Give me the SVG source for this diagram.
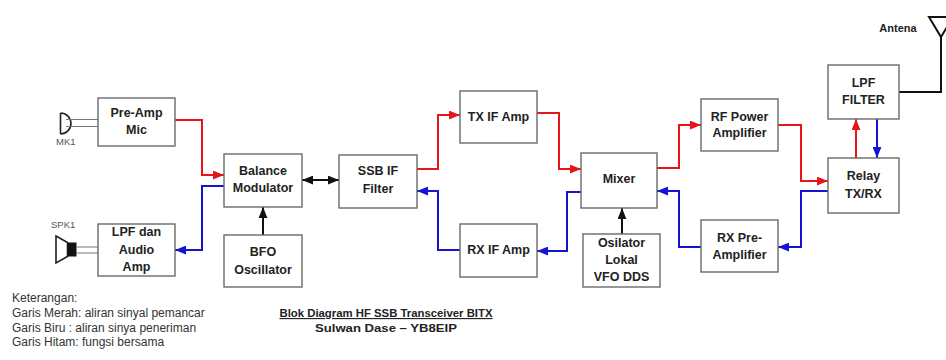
<svg xmlns="http://www.w3.org/2000/svg" width="946" height="360" viewBox="0 0 946 360">
<style>
  .box{fill:#fff;stroke:#6a6a6a;stroke-width:1.4}
  .lbl{font-family:"Liberation Sans",Arial,sans-serif;font-weight:bold;font-size:12.5px;fill:#222;text-anchor:middle}
  .red{fill:none;stroke:#e8141c;stroke-width:2}
  .blue{fill:none;stroke:#1414d2;stroke-width:2}
  .blk{fill:none;stroke:#111;stroke-width:2}
  .sym{fill:none;stroke:#222;stroke-width:1.6}
  .wire{fill:none;stroke:#777;stroke-width:1.2}
  .small{font-family:"Liberation Sans",Arial,sans-serif;font-size:9.5px;fill:#555}
  .legend{font-family:"Liberation Sans",Arial,sans-serif;font-size:12px;fill:#333}
  .title{font-family:"Liberation Sans",Arial,sans-serif;font-size:11.5px;font-weight:bold;fill:#222;text-anchor:middle}
</style>
<defs>
  <marker id="ar" viewBox="0 0 10 8" refX="10" refY="4" markerWidth="11" markerHeight="9" markerUnits="userSpaceOnUse" orient="auto-start-reverse"><path d="M0,0 L10,4 L0,8 Z" fill="#e8141c"/></marker>
  <marker id="ab" viewBox="0 0 10 8" refX="10" refY="4" markerWidth="11" markerHeight="9" markerUnits="userSpaceOnUse" orient="auto-start-reverse"><path d="M0,0 L10,4 L0,8 Z" fill="#1414d2"/></marker>
  <marker id="ak" viewBox="0 0 10 8" refX="10" refY="4" markerWidth="11" markerHeight="9" markerUnits="userSpaceOnUse" orient="auto-start-reverse"><path d="M0,0 L10,4 L0,8 Z" fill="#111"/></marker>
</defs>

<g id="connectors">
  <path class="red" d="M175,120 H202 V175 H224" marker-end="url(#ar)" stroke="#f04848" stroke-width="1.6"/>
  <path class="red" d="M417,169 H438 V115 H460" marker-end="url(#ar)"/>
  <path class="red" d="M537,113 H559 V169 H581" marker-end="url(#ar)"/>
  <path class="red" d="M657,168 H679 V125 H701" marker-end="url(#ar)"/>
  <path class="red" d="M778,125 H801 V181 H828" marker-end="url(#ar)"/>
  <path class="red" d="M856,158 V119" marker-end="url(#ar)"/>
  <path class="blue" d="M224,186 H202 V250 H175" marker-end="url(#ab)" stroke="#4a4ae0" stroke-width="1.6"/>
  <path class="blue" d="M460,250 H438 V191 H417" marker-end="url(#ab)"/>
  <path class="blue" d="M581,192 H567 V251 H537" marker-end="url(#ab)"/>
  <path class="blue" d="M701,247 H679 V191 H657" marker-end="url(#ab)"/>
  <path class="blue" d="M828,191 H801 V247 H778" marker-end="url(#ab)"/>
  <path class="blue" d="M877,119 V158" marker-end="url(#ab)"/>
  <path class="blk" d="M263,235 V207" marker-end="url(#ak)"/>
  <path class="blk" d="M302,180 H339" marker-start="url(#ak)" marker-end="url(#ak)"/>
  <path class="blk" d="M622,234 V208" marker-end="url(#ak)"/>
  <path class="blk" d="M899,92 H941 V37"/>
</g>

<g id="mic">
  <path class="sym" d="M60.5,113 V134 M60.5,113 A10.5,10.5 0 0 1 60.5,134"/>
  <path class="wire" d="M66,119.5 H98 M66,126.5 H98"/>
  <text class="small" x="56" y="145">MK1</text>
</g>

<g id="speaker">
  <path class="sym" d="M56,236 L67.5,242.5 V256.5 L56,263 Z"/>
  <rect x="67.5" y="242.5" width="9" height="14" fill="#111"/>
  <path class="wire" d="M76.5,247 H98 M76.5,253 H98"/>
  <text class="small" x="51" y="228">SPK1</text>
</g>

<g id="antenna">
  <path class="blk" d="M929,17 L941,37 L953,17 Z" stroke-width="1.8"/>
  <text x="898" y="32" font-family="Liberation Sans,Arial,sans-serif" font-size="11" font-weight="bold" fill="#222" text-anchor="middle">Antena</text>
</g>

<g id="preamp-mic"><rect class="box" x="98" y="98" width="77" height="48"/><text class="lbl" x="136.5" y="117">Pre-Amp</text><text class="lbl" x="136.5" y="134">Mic</text></g>
<g id="lpf-audio"><rect class="box" x="98" y="224" width="77" height="52"/><text class="lbl" x="136.5" y="236">LPF dan</text><text class="lbl" x="136.5" y="254">Audio</text><text class="lbl" x="136.5" y="271">Amp</text></g>
<g id="balance-modulator"><rect class="box" x="224" y="154" width="78" height="53"/><text class="lbl" x="263" y="175">Balance</text><text class="lbl" x="263" y="192">Modulator</text></g>
<g id="bfo"><rect class="box" x="224" y="235" width="78" height="52"/><text class="lbl" x="263" y="256">BFO</text><text class="lbl" x="263" y="274">Oscillator</text></g>
<g id="ssb-if-filter"><rect class="box" x="339" y="155" width="78" height="53"/><text class="lbl" x="378" y="175">SSB IF</text><text class="lbl" x="378" y="193">Filter</text></g>
<g id="tx-if-amp"><rect class="box" x="460" y="91" width="77" height="52"/><text class="lbl" x="498.5" y="121">TX IF Amp</text></g>
<g id="rx-if-amp"><rect class="box" x="460" y="224" width="77" height="53"/><text class="lbl" x="498.5" y="254">RX IF Amp</text></g>
<g id="mixer"><rect class="box" x="581" y="153" width="76" height="55"/><text class="lbl" x="619" y="183">Mixer</text></g>
<g id="osilator-lokal"><rect class="box" x="583" y="234" width="77" height="53"/><text class="lbl" x="621.5" y="247">Osilator</text><text class="lbl" x="621.5" y="264">Lokal</text><text class="lbl" x="621.5" y="281">VFO DDS</text></g>
<g id="rf-power-amp"><rect class="box" x="701" y="99" width="77" height="52"/><text class="lbl" x="739.5" y="121">RF Power</text><text class="lbl" x="739.5" y="137">Amplifier</text></g>
<g id="rx-pre-amp"><rect class="box" x="701" y="220" width="77" height="52"/><text class="lbl" x="739.5" y="242">RX Pre-</text><text class="lbl" x="739.5" y="259">Amplifier</text></g>
<g id="relay"><rect class="box" x="828" y="158" width="71" height="55"/><text class="lbl" x="863.5" y="180">Relay</text><text class="lbl" x="863.5" y="198">TX/RX</text></g>
<g id="lpf-filter"><rect class="box" x="828" y="65" width="71" height="54"/><text class="lbl" x="863.5" y="87">LPF</text><text class="lbl" x="863.5" y="104">FILTER</text></g>

<g id="legend">
  <text class="legend" x="12" y="302">Keterangan:</text>
  <text class="legend" x="12" y="317">Garis Merah: aliran sinyal pemancar</text>
  <text class="legend" x="12" y="332">Garis Biru : aliran sinya peneriman</text>
  <text class="legend" x="12" y="346">Garis Hitam: fungsi bersama</text>
</g>
<g id="title">
  <text class="title" x="386" y="317" text-decoration="underline" textLength="213" lengthAdjust="spacingAndGlyphs">Blok Diagram HF SSB Transceiver BITX</text>
  <text class="title" x="386" y="332" textLength="142" lengthAdjust="spacingAndGlyphs">Sulwan Dase – YB8EIP</text>
</g>
</svg>
